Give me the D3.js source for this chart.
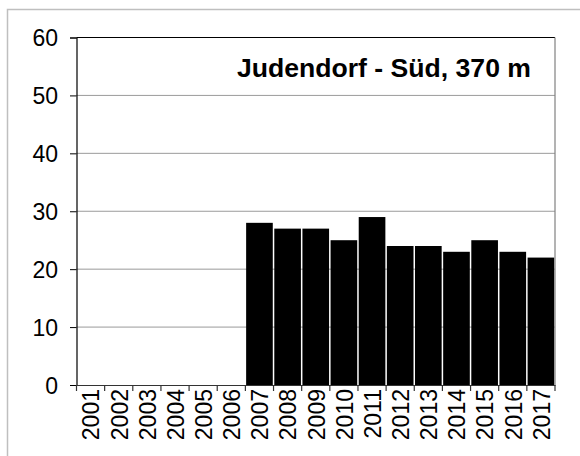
<!DOCTYPE html>
<html>
<head>
<meta charset="utf-8">
<script src="https://cdn.jsdelivr.net/npm/d3@7"></script>
<style>
  html, body { margin: 0; padding: 0; background: #fff; }
  svg { display: block; font-family: "Liberation Sans", Arial, sans-serif; }
  .lbl { font-size: 23px; font-family: "Liberation Sans", Arial, sans-serif; fill: #000; }
  .ttl { font-size: 26.6px; font-weight: bold; font-family: "Liberation Sans", Arial, sans-serif; fill: #000; }
</style>
</head>
<body>
<svg id="chart" width="580" height="456"></svg>
<script>
const years = ["2001","2002","2003","2004","2005","2006","2007","2008","2009","2010","2011","2012","2013","2014","2015","2016","2017"];
const values = [null,null,null,null,null,null,28,27,27,25,29,24,24,23,25,23,22];
const yTicks = [0,10,20,30,40,50,60];
const title = "Judendorf - Süd, 370 m";

const svg = d3.select("#chart");
const L = 76.5, R = 555, T = 37.5, B = 385;

// outer frame
svg.append("rect").attr("x", 7.5).attr("y", 9.5).attr("width", 600).attr("height", 500)
  .attr("fill", "#fff").attr("stroke", "#bfbfbf").attr("stroke-width", 1.5);

const x = d3.scaleBand().domain(years).range([L, R]).padding(0);
const y = d3.scaleLinear().domain([0, 60]).range([B, T]);

// gridlines
svg.append("g").selectAll("line").data(yTicks.filter(d => d > 0 && d < 60)).join("line")
  .attr("x1", L).attr("x2", R).attr("y1", d => y(d)).attr("y2", d => y(d))
  .attr("stroke", "#9a9a9a").attr("stroke-width", 1);

// bars
const data = years.map((yr, i) => ({yr, v: values[i]})).filter(d => d.v != null);
svg.append("g").selectAll("rect").data(data).join("rect")
  .attr("x", d => x(d.yr) + 0.75)
  .attr("width", x.bandwidth() - 1.5)
  .attr("y", d => y(d.v))
  .attr("height", d => B - y(d.v))
  .attr("fill", "#000");

// plot frame: top and right
svg.append("line").attr("x1", L).attr("x2", R).attr("y1", T).attr("y2", T)
  .attr("stroke", "#000").attr("stroke-width", 1.2);
svg.append("line").attr("x1", R).attr("x2", R).attr("y1", T).attr("y2", B)
  .attr("stroke", "#808080").attr("stroke-width", 1.2);

// y axis
const yAxis = d3.axisLeft(y).tickValues(yTicks).tickSize(6.5).tickPadding(12).tickFormat(d3.format("d"));
const gy = svg.append("g").attr("transform", `translate(${L},0)`).call(yAxis);
gy.attr("font-size", 23).attr("font-family", "Liberation Sans, Arial, sans-serif");
gy.select(".domain").attr("stroke", "#000").attr("stroke-width", 1.2);
gy.selectAll(".tick line").attr("stroke", "#000");
gy.selectAll(".tick text").attr("class", "lbl").attr("dy", "0.36em");

// x axis
const xAxis = d3.axisBottom(x).tickSize(0).tickPadding(0);
const gx = svg.append("g").attr("transform", `translate(0,${B})`).call(xAxis);
gx.attr("font-size", 23).attr("font-family", "Liberation Sans, Arial, sans-serif");
gx.select(".domain").attr("stroke", "#333").attr("stroke-width", 1.2);
gx.selectAll(".tick text")
  .attr("class", "lbl")
  .attr("transform", "rotate(-90)")
  .attr("text-anchor", "end")
  .attr("x", -4).attr("y", 0.5).attr("dy", "0.36em");

// category boundary ticks
const bounds = years.map(d => x(d)).concat([R]);
svg.append("g").selectAll("line").data(bounds).join("line")
  .attr("x1", d => d).attr("x2", d => d).attr("y1", B).attr("y2", B + 6)
  .attr("stroke", "#333").attr("stroke-width", 1.2);

// title
svg.append("text").attr("class", "ttl").attr("x", 531).attr("y", 77).attr("text-anchor", "end")
  .text(title);
</script>
</body>
</html>
